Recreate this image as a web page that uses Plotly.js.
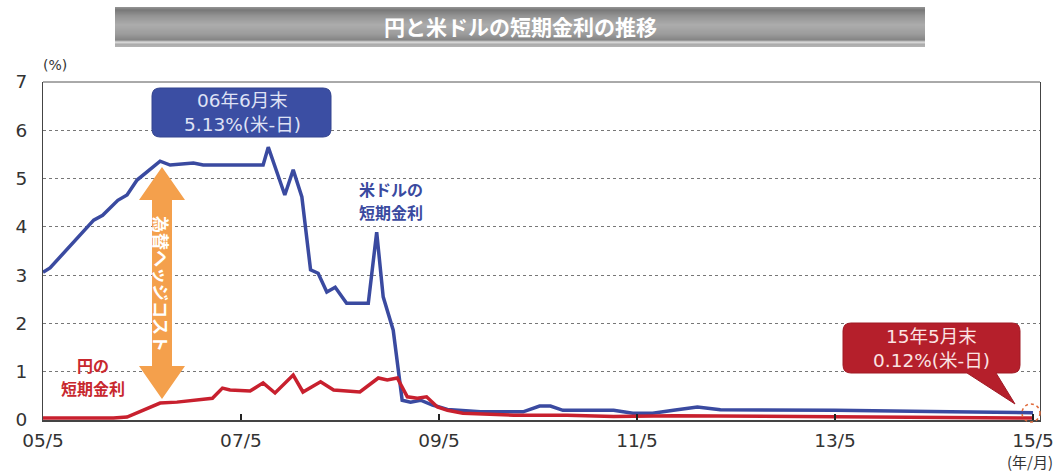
<!DOCTYPE html>
<html>
<head>
<meta charset="utf-8">
<script src="https://cdn.plot.ly/plotly-3.0.1.min.js"></script>
<style>
html,body{margin:0;padding:0;background:#fff;}
#chart{width:1062px;height:472px;}
</style>
</head>
<body>
<div id="chart"></div>
<script>
// ---- data ----
const usDates = ['2005-05-01','2005-05-27','2005-11-04','2005-12-07','2006-02-01','2006-03-07','2006-04-13','2006-05-13','2006-07-07','2006-08-13','2006-11-07','2006-12-13','2007-07-22','2007-08-10','2007-10-10','2007-11-10','2007-12-12','2008-01-13','2008-02-10','2008-03-13','2008-04-13','2008-05-25','2008-08-13','2008-09-13','2008-10-07','2008-11-13','2008-12-16','2009-01-16','2009-02-22','2009-04-07','2009-06-01','2009-10-01','2010-03-07','2010-05-07','2010-06-16','2010-08-01','2011-02-04','2011-04-16','2011-06-28','2011-09-13','2011-12-10','2012-03-04','2013-05-01','2014-07-01','2015-05-01'];
const usRate = [3.06,3.15,4.14,4.24,4.55,4.66,4.97,5.11,5.36,5.28,5.32,5.28,5.28,5.65,4.66,5.18,4.62,3.11,3.04,2.65,2.75,2.42,2.42,3.89,2.55,1.86,0.41,0.37,0.41,0.31,0.22,0.17,0.17,0.29,0.29,0.20,0.20,0.14,0.14,0.20,0.27,0.21,0.20,0.17,0.15];

const jpDates = ['2005-05-01','2006-01-16','2006-03-07','2006-05-04','2006-07-07','2006-09-07','2006-11-22','2007-01-16','2007-02-22','2007-03-22','2007-06-04','2007-07-22','2007-09-04','2007-11-10','2007-12-16','2008-02-19','2008-04-07','2008-07-13','2008-09-19','2008-10-22','2008-11-28','2009-01-04','2009-02-10','2009-03-16','2009-04-25','2009-06-01','2009-07-28','2010-02-01','2010-08-16','2011-02-04','2011-09-13','2013-05-01','2015-05-01'];
const jpRate = [0.04,0.04,0.06,0.20,0.35,0.37,0.41,0.45,0.66,0.62,0.60,0.77,0.56,0.93,0.58,0.79,0.62,0.58,0.87,0.83,0.87,0.48,0.45,0.48,0.27,0.20,0.14,0.10,0.10,0.07,0.09,0.07,0.04];

const tickDates = ['2005-05-01','2007-05-01','2009-05-01','2011-05-01','2013-05-01','2015-05-01'];
const tickLabels = ['05/5','07/5','09/5','11/5','13/5','15/5'];
const yTicks = [0,1,2,3,4,5,6,7];

const chartTitle = '円と米ドルの短期金利の推移';
const usLabelLines = ['米ドルの', '短期金利'];
const jpLabelLines = ['円の', '短期金利'];
const peakNote = '06年6月末<br>5.13%(米-日)';
const lastNote = '15年5月末<br>0.12%(米-日)';
const hedgeNote = '為替ヘッジコスト';

// ---- geometry helpers (pixel -> paper) ----
const L = 43, R = 1040, T = 82, B = 420;
const px = x => (x - L) / (R - L);
const py = y => (B - y) / (B - T);
const P = (x, y) => px(x) + ',' + py(y);

function roundRect(x0, y0, x1, y1, r) {
  return 'M' + P(x0 + r, y0) + ' L' + P(x1 - r, y0) + ' Q' + P(x1, y0) + ' ' + P(x1, y0 + r) +
    ' L' + P(x1, y1 - r) + ' Q' + P(x1, y1) + ' ' + P(x1 - r, y1) +
    ' L' + P(x0 + r, y1) + ' Q' + P(x0, y1) + ' ' + P(x0, y1 - r) +
    ' L' + P(x0, y0 + r) + ' Q' + P(x0, y0) + ' ' + P(x0 + r, y0) + ' Z';
}

const shapes = [];

// title banner (gradient made of thin bands)
const bandStops = [[7,[150,150,150]],[10,[120,120,120]],[16,[148,148,148]],[25,[172,172,172]],[34,[156,156,156]],[40,[132,132,132]],[42,[215,215,215]],[43,[210,210,210]],[44,[170,170,170]],[47,[180,180,180]]];
function bandColor(y) {
  for (let i = 0; i < bandStops.length - 1; i++) {
    const a = bandStops[i], b = bandStops[i + 1];
    if (y >= a[0] && y <= b[0]) {
      const t = (y - a[0]) / (b[0] - a[0] || 1);
      const c = a[1].map((v, k) => Math.round(v + (b[1][k] - v) * t));
      return 'rgb(' + c.join(',') + ')';
    }
  }
  return 'rgb(170,170,170)';
}
for (let y = 7; y < 47; y++) {
  shapes.push({type: 'rect', xref: 'paper', yref: 'paper', x0: px(115), x1: px(925), y0: py(y + 1), y1: py(y),
    fillcolor: bandColor(y + 0.5), line: {width: 0}, layer: 'above'});
}

// top frame line
shapes.push({type: 'line', xref: 'paper', yref: 'paper', x0: 0, x1: 1, y0: 1, y1: 1, line: {color: '#555', width: 1}});

// blue callout box
shapes.push({type: 'path', xref: 'paper', yref: 'paper', path: roundRect(152, 88, 331, 137, 8),
  fillcolor: '#3b4ea3', line: {color: '#34458f', width: 1}, layer: 'above'});

// red callout box with tail
(function () {
  const x0 = 843, y0 = 323, x1 = 1020, y1 = 373, r = 8;
  const path = 'M' + P(x0 + r, y0) + ' L' + P(x1 - r, y0) + ' Q' + P(x1, y0) + ' ' + P(x1, y0 + r) +
    ' L' + P(x1, y1 - r) + ' Q' + P(x1, y1) + ' ' + P(x1 - r, y1) +
    ' L' + P(996, y1) + ' L' + P(1015, 404) + ' L' + P(967, y1) +
    ' L' + P(x0 + r, y1) + ' Q' + P(x0, y1) + ' ' + P(x0, y1 - r) +
    ' L' + P(x0, y0 + r) + ' Q' + P(x0, y0) + ' ' + P(x0 + r, y0) + ' Z';
  shapes.push({type: 'path', xref: 'paper', yref: 'paper', path: path,
    fillcolor: '#b51f2b', line: {color: '#a01a25', width: 1}, layer: 'above'});
})();

// dotted circle at the end
shapes.push({type: 'circle', xref: 'paper', yref: 'paper', x0: px(1022), x1: px(1040), y0: py(422), y1: py(404),
  line: {color: '#e06a3a', width: 1.5, dash: 'dot'}, layer: 'above'});

// orange double arrow
(function () {
  const cx = 162, tTop = 167, hTop = 200, hBot = 366, tBot = 399, hw = 23, sw = 10;
  const path = 'M' + P(cx, tTop) + ' L' + P(cx + hw, hTop) + ' L' + P(cx + sw, hTop) + ' L' + P(cx + sw, hBot) +
    ' L' + P(cx + hw, hBot) + ' L' + P(cx, tBot) + ' L' + P(cx - hw, hBot) + ' L' + P(cx - sw, hBot) +
    ' L' + P(cx - sw, hTop) + ' L' + P(cx - hw, hTop) + ' Z';
  shapes.push({type: 'path', xref: 'paper', yref: 'paper', path: path,
    fillcolor: '#f4a04c', line: {width: 0}, layer: 'above'});
})();

const jpFont = '"DejaVu Sans", "Noto Sans CJK JP", sans-serif';
const cjkFont = '"Noto Sans CJK JP", "DejaVu Sans", sans-serif';

function label(text, x, y, size, color) {
  return {text: '<b>' + text + '</b>', xref: 'paper', yref: 'paper', x: px(x), y: py(y), showarrow: false,
    xanchor: 'center', yanchor: 'middle', font: {family: cjkFont, size: size, color: color}};
}

const annotations = [
  {text: '<b>' + chartTitle + '</b>', xref: 'paper', yref: 'paper', x: px(520), y: py(26), showarrow: false,
    xanchor: 'center', yanchor: 'middle', font: {family: cjkFont, size: 21, color: '#ffffff'}},
  {text: '(%)', xref: 'paper', yref: 'paper', x: px(55), y: py(65), showarrow: false,
    xanchor: 'center', yanchor: 'middle', font: {family: jpFont, size: 14, color: '#333'}},
  {text: '(年/月)', xref: 'paper', yref: 'paper', x: px(1030), y: py(461), showarrow: false,
    xanchor: 'center', yanchor: 'middle', font: {family: cjkFont, size: 15, color: '#333'}},
  {text: peakNote, xref: 'paper', yref: 'paper', x: px(242), y: py(112), showarrow: false,
    xanchor: 'center', yanchor: 'middle', align: 'center', font: {family: jpFont, size: 18.5, color: '#dfe2f5'}},
  {text: lastNote, xref: 'paper', yref: 'paper', x: px(931), y: py(348), showarrow: false,
    xanchor: 'center', yanchor: 'middle', align: 'center', font: {family: jpFont, size: 18.5, color: '#fbe3e3'}},
  label(usLabelLines[0], 391, 189, 16, '#3a4aa0'),
  label(usLabelLines[1], 391, 212, 16, '#3a4aa0'),
  label(jpLabelLines[0], 93, 365, 16, '#c8282e'),
  label(jpLabelLines[1], 93, 388, 16, '#c8282e'),
  {text: '<b>' + hedgeNote + '</b>', xref: 'paper', yref: 'paper', x: px(162), y: py(284), showarrow: false,
    textangle: 90, xanchor: 'center', yanchor: 'middle', font: {family: cjkFont, size: 17, color: '#ffffff'}}
];

const traces = [
  {x: usDates, y: usRate, type: 'scatter', mode: 'lines', name: '米ドル',
    line: {color: '#3a4aa0', width: 3.5}, hoverinfo: 'skip'},
  {x: jpDates, y: jpRate, type: 'scatter', mode: 'lines', name: '円',
    line: {color: '#c8202e', width: 3.5}, hoverinfo: 'skip'}
];

const layout = {
  width: 1062, height: 472,
  margin: {l: L, r: 1062 - R, t: T, b: 472 - B, pad: 0},
  paper_bgcolor: '#ffffff', plot_bgcolor: '#ffffff',
  showlegend: false,
  xaxis: {
    type: 'date', range: ['2005-05-01', '2015-05-27'],
    tickvals: tickDates, ticktext: tickLabels,
    ticks: 'inside', ticklen: 6, tickwidth: 2, tickcolor: '#222',
    ticklabelstandoff: 3,
    showgrid: false, zeroline: false,
    showline: true, linecolor: '#444', linewidth: 2,
    tickfont: {family: jpFont, size: 18.5, color: '#333'}
  },
  yaxis: {
    range: [0, 7], tickvals: yTicks, ticktext: yTicks.map(String),
    showgrid: true, gridcolor: '#777', gridwidth: 1, griddash: 'dot',
    zeroline: false, showline: true, linecolor: '#444', linewidth: 1, mirror: true,
    ticks: '', ticklabelstandoff: 11,
    tickfont: {family: jpFont, size: 18.5, color: '#333'}
  },
  shapes: shapes,
  annotations: annotations
};

Plotly.newPlot('chart', traces, layout, {displayModeBar: false, staticPlot: true});
</script>
</body>
</html>
